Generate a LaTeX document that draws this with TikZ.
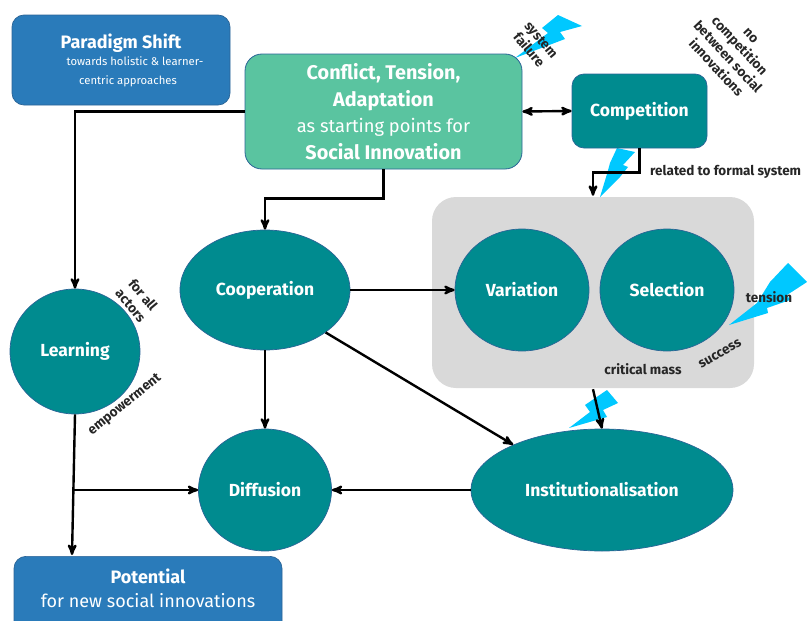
\documentclass[tikz,border=0pt]{standalone}
\usepackage{fontspec}
\setmainfont{Fira Sans}
\usetikzlibrary{arrows}
\usetikzlibrary{shapes.geometric}
\usetikzlibrary{calc}
\definecolor{tealfill}{HTML}{008B8F}
\definecolor{greenfill}{HTML}{5AC4A0}
\definecolor{bluefill}{HTML}{2A7BBA}
\definecolor{panelgray}{HTML}{D9D9D9}
\definecolor{boltblue}{HTML}{00C8FF}
\definecolor{edgeblue}{HTML}{2A6496}
\newcommand{\smalltext}{\fontsize{11.3}{21}\selectfont}
\newcommand{\headtext}{\bfseries\fontsize{18}{21}\selectfont}
\begin{document}
\begin{tikzpicture}[x=1pt, y=-1pt, >=stealth', line width=2.4pt, black,
  skip loop/.style = {to path={-- ++(0,#1) -| (\tikztotarget)}},
  stage/.style={ellipse,inner sep=0pt,fill=tealfill,draw=edgeblue,line width=.7pt,text=white,font=\bfseries\fontsize{17.5}{21}\selectfont},
  tealbox/.style={rectangle,rounded corners=12pt,inner sep=0pt,fill=tealfill,draw=edgeblue,line width=.7pt,text=white,font=\bfseries\fontsize{17.5}{21}\selectfont},
  greenbox/.style={rectangle,rounded corners=17pt,inner sep=0pt,fill=greenfill,draw=edgeblue,line width=.8pt,text=white,align=center,font=\fontsize{19.8}{26.7}\selectfont},
  bluebox/.style={rectangle,rounded corners=12pt,inner sep=0pt,fill=bluefill,draw=edgeblue,line width=.7pt,text=white,align=center},
  remark/.style={inner sep=0pt,text=black!85,align=center,font=\bfseries\fontsize{13.5}{16}\selectfont},
  bolt/.style={fill=boltblue,draw=none}]

  \useasboundingbox (0,0) rectangle (807,621);

  % grey field behind the two circles
  \node[rectangle,rounded corners=24pt,fill=panelgray,minimum width=322pt,minimum height=191pt,inner sep=0pt] (panel) at (593,292.5) {};

  % lightning
  \fill[bolt] (515,58) -- (548,33) -- (542,28) -- (558,15) -- (582,26) -- (560,32) -- (565,39) -- cycle;
  \fill[bolt] (617,148) -- (635,152) -- (623,165) -- (628,167) -- (620,177) -- (600,197) -- (607,174) -- (610,163) -- cycle;
  \fill[bolt] (729,325) -- (757,303) -- (770,282) -- (788,263) -- (807,282) -- (787,295) -- (790,300) -- (767,308) -- (768,313) -- cycle;
  \fill[bolt] (569,428) -- (590,412) -- (585,405) -- (607,390) -- (618,403) -- (603,410) -- (607,417) -- cycle;

  \node[bluebox,minimum width=218pt,minimum height=90pt] (paradigm) at (121,60)
    {\headtext Paradigm Shift\\[3pt]
     \mdseries\smalltext\hspace*{28pt}towards holistic \& learner-\\[7pt]
     \smalltext\hspace*{14pt}centric approaches};
  \node[greenbox,minimum width=277pt,minimum height=115pt] (conflict) at (383.5,111.5)
    {\bfseries Conflict, Tension,\\\bfseries Adaptation\\\mdseries\fontsize{18.3}{26.7}\selectfont as starting points for\\\bfseries\fontsize{19.8}{26.7}\selectfont Social Innovation};
  \node[tealbox,minimum width=135pt,minimum height=74pt] (competition) at (639.5,111) {Competition};
  \node[bluebox,minimum width=268pt,minimum height=90pt,anchor=north] (potential) at (148,556)
    {};
  \node[text=white,align=center,inner sep=0pt] (potentialtext) at (148,588)
    {\headtext Potential\\[9pt]\mdseries\fontsize{18}{21}\selectfont for new social innovations};

  \node[stage,minimum width=170pt,minimum height=120pt] (cooperation) at (265,290) {Cooperation};
  \node[stage,minimum width=134pt,minimum height=122pt] (variation) at (522,290) {Variation};
  \node[stage,minimum width=134pt,minimum height=122pt] (selection) at (667,290) {Selection};
  \node[stage,minimum width=130pt,minimum height=125pt] (learning) at (75,351.5) {Learning};
  \node[stage,minimum width=133pt,minimum height=122pt] (diffusion) at (265,490) {Diffusion};
  \node[stage,minimum width=262pt,minimum height=122pt] (institution) at (602,490) {Institutionalisation};

  \coordinate (branch) at (74,490);
  \coordinate (potentialin) at (72,555);

  \draw[->] (conflict.west) -| (learning.north);
  \draw[<->] (conflict.east) -- (competition.west);
  \draw[->] (conflict.south) to[skip loop=29] (cooperation.north);
  \draw[->] (competition.south) to[skip loop=24] (panel.north);
  \draw[->] (cooperation.east) -- (variation.west);
  \draw[->] (cooperation.south) -- (diffusion.north);
  \draw[->] (cooperation.-35) -- (institution.153);
  \draw[->] (panel.south) -- (institution.north);
  \draw[->] (institution.west) -- (diffusion.east);
  \draw[->] (learning.south) -- (potentialin);
  \draw[->] (branch) -- (diffusion.west);

  \node[remark,rotate=-50] (failure) at (535,45) {system\\failure};
  \node[remark,rotate=-47] (nocompetition) at (733,52) {no\\competition\\between social\\innovations};
  \node[remark,anchor=west] (formal) at (649,172) {related to formal system};
  \node[remark,rotate=-50] (actors) at (137,300) {for all\\actors};
  \node[remark,rotate=39] (empowerment) at (125,405) {empowerment};
  \node[remark] (tension) at (769,297) {tension};
  \node[remark] (critical) at (643,369) {critical mass};
  \node[remark,rotate=30] (success) at (720,354) {success};
\end{tikzpicture}
\end{document}
